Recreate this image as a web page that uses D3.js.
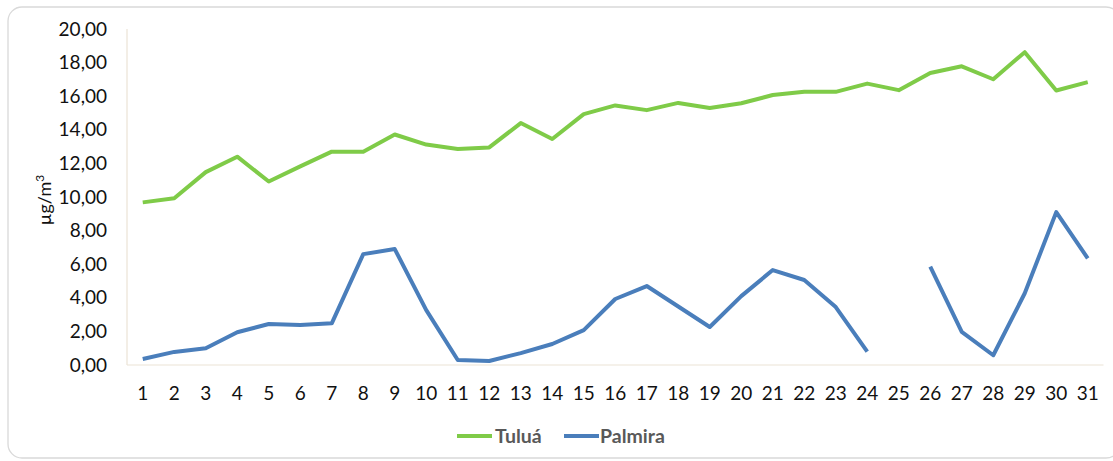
<!DOCTYPE html>
<html><head><meta charset="utf-8">
<script src="https://cdn.jsdelivr.net/npm/d3@7"></script>
<style>body{margin:0;background:#fff}svg{display:block}</style>
</head><body><svg id="c" width="1113" height="461"></svg>
<script>
const days = d3.range(1, 32).map(String);
const tulua = [9.68,9.93,11.48,12.40,10.92,11.82,12.70,12.70,13.72,13.12,12.86,12.95,14.40,13.45,14.93,15.45,15.17,15.60,15.30,15.58,16.07,16.26,16.26,16.75,16.36,17.38,17.78,17.01,18.62,16.34,16.84];
const palmira = [0.36,0.78,1.00,1.95,2.44,2.38,2.48,6.60,6.90,3.27,0.30,0.24,0.71,1.25,2.08,3.93,4.70,3.48,2.26,4.10,5.65,5.06,3.45,0.80,null,5.85,1.97,0.58,4.27,9.10,6.35];
const yTicks = [0,2,4,6,8,10,12,14,16,18,20];
const seriesNames = ["Tuluá","Palmira"];
const colors = ["#7FCB48","#4A7EBB"];

const svg = d3.select("#c");
const font = "Lato, 'Open Sans', sans-serif";
svg.append("rect").attr("x",8).attr("y",7).attr("width",1112).attr("height",451)
  .attr("rx",14).attr("fill","#fff").attr("stroke","#d9d9d9").attr("stroke-width",1.3);

const pLeft = 127, pRight = 1103.5, pTop = 29, pBottom = 365;
const x = d3.scalePoint().domain(days).range([pLeft, pRight]).padding(0.5);
const y = d3.scaleLinear().domain([0,20]).range([pBottom, pTop]);

svg.append("line").attr("x1",pLeft).attr("x2",pLeft).attr("y1",pTop).attr("y2",pBottom)
  .attr("stroke","#ebe3d6").attr("stroke-width",1.2);
svg.append("line").attr("x1",pLeft).attr("x2",pRight).attr("y1",pBottom).attr("y2",pBottom)
  .attr("stroke","#ebe3d6").attr("stroke-width",1.2);

const fmt = v => v.toFixed(2).replace(".", ",");
svg.append("g").selectAll("text").data(yTicks).join("text")
  .attr("x",107).attr("y",d=>y(d)).attr("dy","0.35em").attr("text-anchor","end")
  .attr("font-family",font).attr("font-size",19).attr("fill","#111").text(fmt);

svg.append("g").selectAll("text").data(days).join("text")
  .attr("x",d=>x(d)).attr("y",393).attr("dy","0.35em").attr("text-anchor","middle")
  .attr("font-family",font).attr("font-size",19).attr("fill","#111").text(d=>d);

const yt = svg.append("text").attr("transform","translate(51,200) rotate(-90)")
  .attr("text-anchor","middle").attr("font-family",font).attr("font-size",18).attr("fill","#111");
yt.append("tspan").text("µg/m");
yt.append("tspan").attr("baseline-shift","super").attr("font-size",12).text("3");

const line = d3.line().defined(d=>d.v!=null).x(d=>x(d.k)).y(d=>y(d.v));
[tulua, palmira].forEach((arr,i)=>{
  svg.append("path").datum(arr.map((v,j)=>({k:days[j],v})))
    .attr("d",line).attr("fill","none").attr("stroke",colors[i])
    .attr("stroke-width",4).attr("stroke-linejoin","round");
});

const lg = [{x1:457,x2:492,tx:495},{x1:564,x2:599,tx:600}];
lg.forEach((l,i)=>{
  svg.append("line").attr("x1",l.x1).attr("x2",l.x2).attr("y1",436).attr("y2",436)
    .attr("stroke",colors[i]).attr("stroke-width",4);
  svg.append("text").attr("x",l.tx).attr("y",436).attr("dy","0.35em")
    .attr("font-family",font).attr("font-size",19.5).attr("font-weight","bold")
    .attr("fill","#595959").text(seriesNames[i]);
});
</script></body></html>
